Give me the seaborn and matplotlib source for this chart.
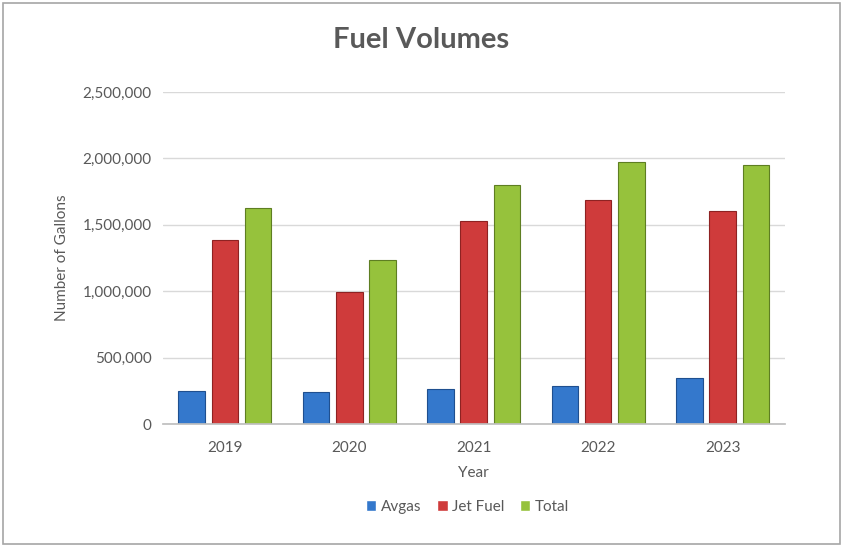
import pandas as pd
import seaborn as sns
import matplotlib.pyplot as plt
from matplotlib.patches import Rectangle
from matplotlib.ticker import FuncFormatter

sns.set_theme(style="white")
plt.rcParams['font.family'] = ['Lato', 'DejaVu Sans']

# values (gallons)
years = ["2019", "2020", "2021", "2022", "2023"]
avgas = [248000, 239000, 264000, 286000, 344000]
jet_fuel = [1386000, 994000, 1531000, 1684000, 1604000]
total = [1629000, 1235000, 1797000, 1973000, 1948000]
series = ["Avgas", "Jet Fuel", "Total"]
colors = ["#3478CC", "#CF3B3B", "#96C23C"]
edges = ["#1F4F8F", "#8E2222", "#5E7E22"]

df = pd.DataFrame({"Year": years * 3,
                   "Fuel": [s for s in series for _ in years],
                   "Gallons": avgas + jet_fuel + total})

text_col = "#595959"

fig = plt.figure(figsize=(8.43, 5.46), dpi=100)
ax = fig.add_axes([0.193, 0.2234, 0.738, 0.6081])

sns.barplot(ax=ax, data=df, x="Year", y="Gallons", hue="Fuel",
            palette=colors, width=0.8, gap=0.2, saturation=1)

# darker outline per series, like the bevelled bars
for cont, ec in zip(ax.containers, edges):
    for bar in cont:
        bar.set_edgecolor(ec)
        bar.set_linewidth(0.8)

ax.set_ylim(0, 2500000)
ax.set_yticks(range(0, 2500001, 500000))
ax.yaxis.set_major_formatter(FuncFormatter(lambda v, p: f"{int(v):,}"))
ax.grid(axis="y", color="#D9D9D9", linewidth=1)
ax.set_axisbelow(True)
for s in ["left", "right", "top"]:
    ax.spines[s].set_visible(False)
ax.spines["bottom"].set_color("#BFBFBF")
ax.tick_params(axis="both", length=0, labelsize=11, labelcolor=text_col, pad=8)
ax.tick_params(axis="x", pad=12)

ax.set_xlabel("Year", fontsize=11, color=text_col, labelpad=8)
ax.set_ylabel("Number of Gallons", fontsize=11, color=text_col, labelpad=10)

fig.suptitle("Fuel Volumes", fontsize=21, fontweight="bold", color=text_col, x=0.5, y=0.95)

ax.legend(loc="center", bbox_to_anchor=(0.49, -0.25), ncol=3, frameon=False,
          fontsize=11, labelcolor=text_col, handlelength=0.7, handleheight=0.7,
          handletextpad=0.3, columnspacing=1.0)

# chart area border
fig.patches.append(Rectangle((0.004, 0.004), 0.992, 0.99, transform=fig.transFigure,
                             fill=False, edgecolor="#A6A6A6", linewidth=1.2))

fig.savefig("out.png", dpi=100)
